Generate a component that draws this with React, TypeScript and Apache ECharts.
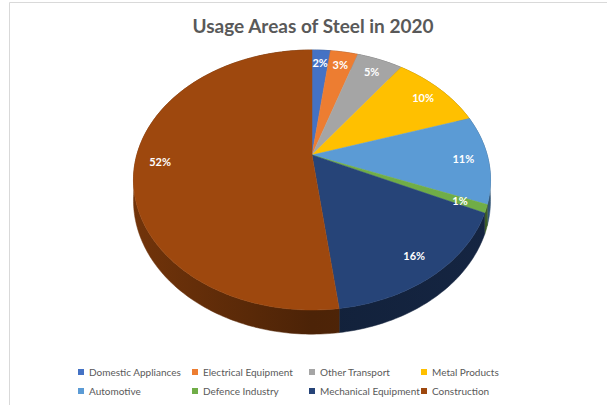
import React, { useEffect, useRef } from 'react';
import * as echarts from 'echarts';

const categories = [
  'Domestic Appliances',
  'Electrical Equipment',
  'Other Transport',
  'Metal Products',
  'Automotive',
  'Defence Industry',
  'Mechanical Equipment',
  'Construction',
];
const shares = [2, 3, 5, 10, 11, 1, 16, 52];
const palette = ['#4472C4', '#ED7D31', '#A5A5A5', '#FFC000', '#5B9BD5', '#70AD47', '#264478', '#9E480E'];
const titleText = 'Usage Areas of Steel in 2020';

// layout (pixels)
const CX = 312;
const CY = 155;
const AX = 175.2;
const BY = 125.2;
const K = 0.1923;
const DEPTH = 19.5;
const LABEL_R = 0.86;
const legendLeft = [78, 192, 309, 421];
const legendTop = 367;

function project(u: number, v: number, h: number): number[] {
  const w = 1 - K * v;
  return [CX + (AX * u) / w, CY + (BY * v + DEPTH * h) / w];
}
function rim(theta: number, r: number, h: number): number[] {
  return project(r * Math.sin(theta), -r * Math.cos(theta), h);
}
function shade(hex: string, f: number): string {
  const n = parseInt(hex.slice(1), 16);
  const r = Math.round(((n >> 16) & 255) * f);
  const g = Math.round(((n >> 8) & 255) * f);
  const b = Math.round((n & 255) * f);
  return `rgb(${r},${g},${b})`;
}

export default function App() {
  const ref = useRef<HTMLDivElement>(null);
  useEffect(() => {
    if (!ref.current) return;
    const chart = echarts.init(ref.current, undefined, { renderer: 'svg' });
    const total = shares.reduce((a, b) => a + b, 0);

    const series = categories.map((name, i) => {
      const color = palette[i];
      return {
        type: 'custom',
        name,
        coordinateSystem: 'none',
        itemStyle: { color },
        data: [shares[i]],
        renderItem: (_params: any, api: any) => {
          const before = shares.slice(0, i).reduce((a, b) => a + b, 0);
          const start = (before / total) * Math.PI * 2;
          const end = start + (api.value(0) / total) * Math.PI * 2;
          const steps = Math.max(2, Math.ceil((end - start) / (Math.PI / 180)));
          const arcTop: number[][] = [];
          const arcBottom: number[][] = [];
          for (let s = 0; s <= steps; s++) {
            const t = start + ((end - start) * s) / steps;
            arcTop.push(rim(t, 1, 0));
            arcBottom.push(rim(t, 1, 1));
          }
          const side = arcTop.concat(arcBottom.slice().reverse());
          const top = [project(0, 0, 0)].concat(arcTop);
          const mid = (start + end) / 2;
          const lp = rim(mid, LABEL_R, 0);
          const sideFill = {
            type: 'linear',
            x: CX - AX - 5,
            y: 0,
            x2: CX + AX + 5,
            y2: 0,
            global: true,
            colorStops: [
              { offset: 0, color: shade(color, 0.72) },
              { offset: 0.5, color: shade(color, 0.48) },
              { offset: 1, color: shade(color, 0.55) },
            ],
          };
          return {
            type: 'group',
            children: [
              { type: 'polygon', z2: 1, shape: { points: side }, style: { fill: sideFill, stroke: sideFill, lineWidth: 0.5 } },
              { type: 'polygon', z2: 10, shape: { points: top }, style: { fill: color, stroke: color, lineWidth: 0.5 } },
              {
                type: 'text',
                z2: 20,
                style: {
                  text: `${api.value(0)}%`,
                  x: lp[0],
                  y: lp[1],
                  align: 'center',
                  verticalAlign: 'middle',
                  fill: '#ffffff',
                  font: 'bold 11px Lato',
                },
              },
            ],
          };
        },
      };
    });

    const legends = legendLeft.map((left, j) => ({
      orient: 'vertical',
      left,
      top: legendTop,
      padding: 0,
      itemWidth: 6,
      itemHeight: 6,
      itemGap: 9,
      icon: 'rect',
      selectedMode: false,
      data: [categories[j], categories[j + 4]],
      textStyle: { fontFamily: 'Lato', fontSize: 10, color: '#595959' },
    }));

    chart.setOption({
      animation: false,
      backgroundColor: '#ffffff',
      color: palette,
      legend: legends,
      graphic: [
        { type: 'line', shape: { x1: 9.5, y1: 2.5, x2: 9.5, y2: 405 }, style: { stroke: '#d9d9d9', lineWidth: 1 } },
        { type: 'line', shape: { x1: 9.5, y1: 2.5, x2: 607, y2: 2.5 }, style: { stroke: '#d9d9d9', lineWidth: 1 } },
        {
          type: 'text',
          x: 313,
          y: 25,
          style: {
            text: titleText,
            align: 'center',
            verticalAlign: 'middle',
            fill: '#595959',
            font: 'bold 19px Lato',
          },
        },
      ],
      series,
    });
    return () => chart.dispose();
  }, []);
  return <div ref={ref} style={{ position: 'fixed', left: 0, top: 0, width: 607, height: 405 }} />;
}
